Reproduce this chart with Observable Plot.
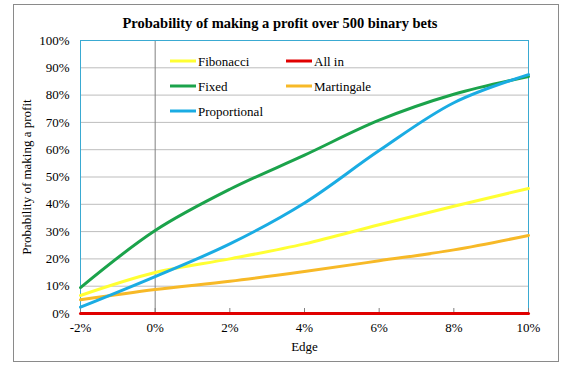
<!DOCTYPE html>
<html>
<head>
<meta charset="utf-8">
<script src="https://cdn.jsdelivr.net/npm/d3@7"></script>
<script src="https://cdn.jsdelivr.net/npm/@observablehq/plot@0.6"></script>
<style>
  html, body { margin: 0; padding: 0; background: #fff; }
  #chart svg { display: block; }
  #chart svg text { font-family: 'Liberation Serif', 'Times New Roman', serif; }
</style>
</head>
<body>
<div id="chart"></div>
<script>
const title = "Probability of making a profit over 500 binary bets";
const xLabel = "Edge";
const yLabel = "Probability of making a profit";
const edges = [-0.02, 0.00, 0.02, 0.04, 0.06, 0.08, 0.10];
const seriesNames = ["Fibonacci", "All in", "Fixed", "Martingale", "Proportional"];
const fibonacci    = [0.066, 0.150, 0.200, 0.255, 0.325, 0.393, 0.458];
const allIn        = [0.000, 0.000, 0.000, 0.000, 0.000, 0.000, 0.000];
const fixed        = [0.095, 0.304, 0.455, 0.580, 0.708, 0.803, 0.868];
const martingale   = [0.050, 0.088, 0.118, 0.154, 0.193, 0.233, 0.286];
const proportional = [0.023, 0.135, 0.255, 0.405, 0.597, 0.772, 0.875];
const seriesValues = [fibonacci, allIn, fixed, martingale, proportional];
const colors = ["#FFFF33", "#E00000", "#1BA34B", "#F7B927", "#1AACE3"];
const xTicks = [-0.02, 0.00, 0.02, 0.04, 0.06, 0.08, 0.10];
const yTicks = [0, 0.1, 0.2, 0.3, 0.4, 0.5, 0.6, 0.7, 0.8, 0.9, 1.0];

const rows = [];
seriesNames.forEach((name, i) => {
  edges.forEach((e, j) => rows.push({series: name, edge: e, p: seriesValues[i][j]}));
});
const pct = d => Math.round(d * 100) + "%";
const font = "'Liberation Serif', 'Times New Roman', serif";

const W = 570, H = 372;
const chart = Plot.plot({
  width: W,
  height: H,
  marginLeft: 80,
  marginRight: 42,
  marginTop: 40,
  marginBottom: 59,
  style: {fontFamily: font, fontSize: "13px", color: "#000", background: "#fff"},
  x: {domain: [-0.02, 0.10]},
  y: {domain: [0, 1]},
  color: {domain: seriesNames, range: colors},
  marks: [
    Plot.gridY(yTicks, {stroke: "#BDBDBD", strokeOpacity: 1, strokeWidth: 1}),
    Plot.ruleX([0], {stroke: "#808080", strokeWidth: 1}),
    Plot.frame({stroke: "#3AAAD2", strokeWidth: 1}),
    Plot.axisX({ticks: xTicks, tickSize: -5, text: null, label: null, stroke: "#808080"}),
    Plot.line(rows, {x: "edge", y: "p", z: "series", stroke: "series",
                     strokeWidth: 3, curve: "catmull-rom"}),
    Plot.axisX({ticks: xTicks, tickFormat: pct, tickSize: 0, tickPadding: 9,
                label: xLabel, labelArrow: "none", labelAnchor: "center", labelOffset: 37,
                fontSize: 13, fontFamily: font}),
    Plot.axisY({ticks: yTicks, tickFormat: pct, tickSize: 0, tickPadding: 11,
                label: yLabel, labelArrow: "none", labelAnchor: "center", labelOffset: 59,
                fontSize: 13, fontFamily: font})
  ]
});

const svg = d3.select(chart);
// outer chart border
svg.insert("rect", ":first-child")
  .attr("x", 13.5).attr("y", 4.5).attr("width", 545).attr("height", 357)
  .attr("fill", "#fff").attr("stroke", "#8A8A8A").attr("stroke-width", 1);
// title
svg.append("text")
  .attr("x", 280).attr("y", 28)
  .attr("text-anchor", "middle")
  .attr("font-family", font).attr("font-weight", "bold").attr("font-size", "14.5px")
  .attr("fill", "#000")
  .text(title);
// legend (two columns)
const legendCols = [170, 286];
const legendRows = [61, 86, 111];
const lg = svg.append("g").attr("font-family", font).attr("font-size", "13px")
  .attr("text-anchor", "start");
seriesNames.forEach((name, i) => {
  const cx = legendCols[i % 2], cy = legendRows[Math.floor(i / 2)];
  lg.append("line").attr("x1", cx).attr("x2", cx + 26).attr("y1", cy).attr("y2", cy)
    .attr("stroke", colors[i]).attr("stroke-width", 3);
  lg.append("text").attr("x", cx + 28).attr("y", cy).attr("dy", "0.35em")
    .attr("text-anchor", "start").attr("fill", "#000").text(name);
});

document.getElementById("chart").appendChild(chart);
</script>
</body>
</html>
